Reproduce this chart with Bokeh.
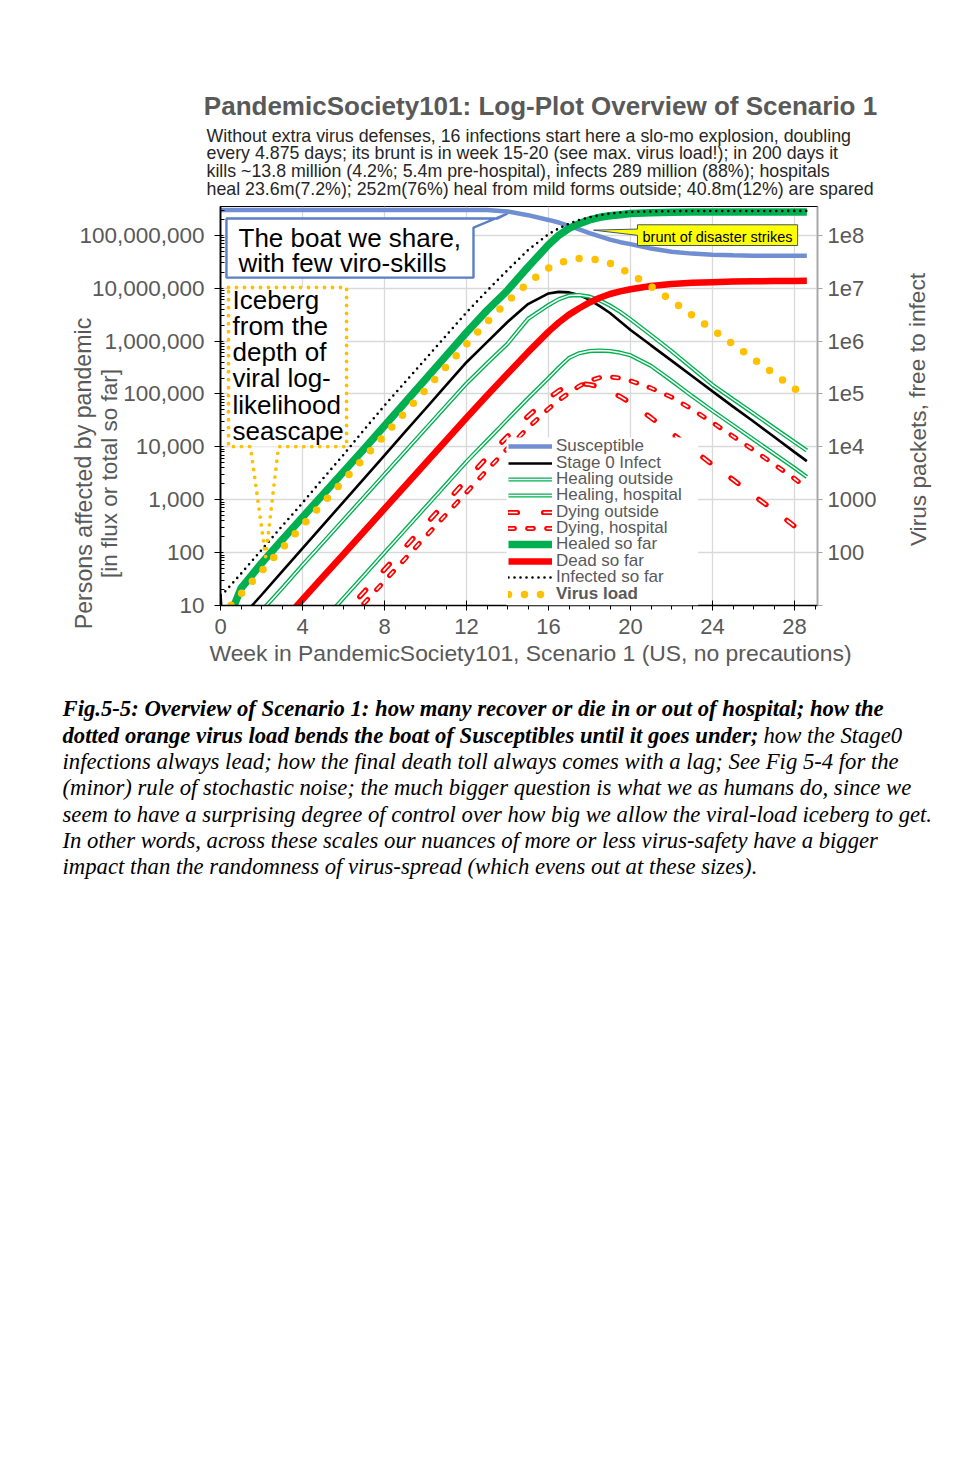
from bokeh.plotting import figure
from bokeh.models import (Range1d, LogAxis, FixedTicker, NumeralTickFormatter,
                          CustomJSTickFormatter, Label, Legend, LegendItem,
                          BoxAnnotation, ColumnDataSource)
from bokeh.embed import file_html
from bokeh.resources import INLINE

# ---------------- data ----------------
weeks = [0, 0.15, 1, 2, 3, 4, 5, 6, 7, 8, 9, 10, 11, 12, 13, 14, 15, 16, 16.5,
         17, 17.5, 18, 18.5, 19, 19.5, 20, 21, 22, 23, 24, 25, 26, 27, 28, 28.6]

susceptible = [3.0e8, 3.0e8, 3.0e8, 3.0e8, 3.0e8, 3.0e8, 3.0e8, 3.0e8, 3.0e8, 3.0e8,
               3.0e8, 3.0e8, 3.0e8, 3.0e8, 3.0e8, 2.82e8, 2.4e8, 1.95e8, 1.74e8,
               1.51e8, 1.29e8, 1.1e8, 9.5e7, 8.3e7, 7.4e7, 6.8e7, 5.6e7, 4.9e7,
               4.5e7, 4.3e7, 4.2e7, 4.12e7, 4.1e7, 4.09e7, 4.08e7]
stage0 = [16, 2.0, 5.8, 15.8, 43.6, 120, 331, 912, 2510, 6920, 19100, 52500, 145000,
          398000, 955000, 2.29e6, 5.01e6, 7.94e6, 8.51e6, 8.32e6, 7.41e6, 6.03e6,
          4.57e6, 3.39e6, 2.34e6, 1.62e6, 8.3e5, 4.27e5, 2.19e5, 1.12e5, 5.75e4,
          3.02e4, 1.55e4, 7940, 5370]
healing_outside = [1, 1, 2.95, 7.9, 21, 58, 155, 417, 1120, 3020, 8130, 21900, 58900,
                   158000, 380000, 890000, 2.63e6, 4.79e6, 6.17e6, 7.24e6, 7.41e6,
                   6.92e6, 5.89e6, 4.68e6, 3.55e6, 2.57e6, 1.29e6, 6.46e5, 3.09e5,
                   1.48e5, 7.94e4, 4.27e4, 2.29e4, 1.23e4, 8510]
healing_hospital = [1, 1, 1, 1, 1, 1.9, 5.1, 13.8, 37, 100, 269, 724, 1950, 5250, 13200,
                    33100, 83200, 2.0e5, 3.16e5, 4.79e5, 5.89e5, 6.46e5, 6.61e5, 6.46e5,
                    6.03e5, 5.37e5, 3.39e5, 1.78e5, 9.12e4, 4.79e4, 2.57e4, 1.38e4,
                    7410, 3980, 2690]
dying_outside = [1, 1, 1, 1, 1, 1, 1, 6.8, 18, 48, 126, 339, 891, 2400, 6310, 15800,
                 38000, 83200, 1.15e5, 1.48e5, 1.58e5, 1.51e5, 1.35e5, 1.12e5, 8.9e4,
                 6.76e4, 3.55e4, 1.82e4, 9120, 4570, 2400, 1200, 631, 316, 214]
dying_hospital = [1, 1, 1, 1, 1, 1, 1, 4.2, 11, 29, 76, 200, 525, 1380, 3630, 9330,
                  22900, 52500, 75900, 1.05e5, 1.41e5, 1.78e5, 2.04e5, 2.09e5, 2.0e5,
                  1.78e5, 1.29e5, 8.7e4, 5.13e4, 2.88e4, 1.58e4, 8710, 4680, 2510, 1660]
healed_so_far = [1, 3.2, 21, 63, 174, 468, 1260, 3390, 9120, 25100, 69200, 1.9e5,
                 5.25e5, 1.45e6, 3.8e6, 9.1e6, 2.51e7, 6.6e7, 1.0e8, 1.35e8, 1.66e8,
                 1.95e8, 2.19e8, 2.34e8, 2.45e8, 2.57e8, 2.66e8, 2.72e8, 2.75e8,
                 2.76e8, 2.76e8, 2.76e8, 2.76e8, 2.76e8, 2.76e8]
dead_so_far = [1, 1, 1, 1, 4.8, 13, 35, 93, 251, 676, 1820, 4900, 13200, 35500, 93300,
               2.4e5, 6.17e5, 1.51e6, 2.24e6, 3.16e6, 4.17e6, 5.37e6, 6.6e6, 7.76e6,
               8.7e6, 9.55e6, 1.1e7, 1.2e7, 1.26e7, 1.3e7, 1.33e7, 1.35e7, 1.36e7,
               1.37e7, 1.38e7]
infected_so_far = [16, 17, 40, 112, 316, 871, 2510, 7080, 20900, 60300, 1.66e5, 4.57e5,
                   1.26e6, 3.47e6, 8.9e6, 2.19e7, 5.25e7, 1.05e8, 1.35e8, 1.66e8, 1.95e8,
                   2.19e8, 2.4e8, 2.57e8, 2.69e8, 2.75e8, 2.82e8, 2.85e8, 2.88e8, 2.88e8,
                   2.88e8, 2.88e8, 2.88e8, 2.89e8, 2.89e8]
virus_load = [6, 7, 16.6, 44.7, 120, 324, 871, 2290, 6170, 16600, 44700, 1.2e5, 3.24e5,
              8.71e5, 2.29e6, 5.62e6, 1.26e7, 2.4e7, 2.95e7, 3.39e7, 3.63e7, 3.63e7,
              3.39e7, 2.95e7, 2.4e7, 1.86e7, 1.07e7, 5.89e6, 3.09e6, 1.66e6, 8.71e5,
              4.57e5, 2.4e5, 1.26e5, 8.51e4]

x_ticks = [0, 4, 8, 12, 16, 20, 24, 28]
y_ticks = [10, 100, 1000, 1e4, 1e5, 1e6, 1e7, 1e8]

title_text = "PandemicSociety101: Log-Plot Overview of Scenario 1"
subtitle_lines = [
    "Without extra virus defenses, 16 infections start here a slo-mo explosion, doubling",
    "every 4.875 days; its brunt is in week 15-20 (see max. virus load!); in 200 days it",
    "kills ~13.8 million  (4.2%; 5.4m pre-hospital), infects 289 million  (88%); hospitals",
    "heal 23.6m(7.2%); 252m(76%) heal from mild forms outside; 40.8m(12%) are spared",
]
caption_bold_1 = "Fig.5-5: Overview of Scenario 1: how many recover or die in or out of hospital; how the"
caption_bold_2 = "dotted orange virus load bends the boat of Susceptibles until it goes under;"
caption_ital_2 = "how the Stage0"
caption_lines = [
    "infections always lead; how the final death toll always comes with a lag; See Fig 5-4 for the",
    "(minor) rule of stochastic noise; the much bigger question is what we as humans do, since we",
    "seem to have a surprising degree of control over how big we allow the viral-load iceberg to get.",
    "In other words, across these scales our nuances of more or less virus-safety have a bigger",
    "impact than the randomness of virus-spread (which evens out at these sizes).",
]

src = ColumnDataSource(dict(week=weeks, sus=susceptible, s0=stage0, ho=healing_outside,
                            hh=healing_hospital, do=dying_outside, dh=dying_hospital,
                            healed=healed_so_far, dead=dead_so_far,
                            inf=infected_so_far, vir=virus_load))

# ---------------- figure ----------------
W, H = 965, 1457
FL, FR, FT, FB = 220, 817, 206, 605
SANS = "Liberation Sans"
SERIF = "Liberation Serif"
GREY = "#595959"

p = figure(width=W, height=H, output_backend="svg", toolbar_location=None,
           x_range=Range1d(0, 29.12), y_range=Range1d(10, 3.5e8), y_axis_type="log",
           min_border_left=FL, min_border_right=W - FR, min_border_top=FT,
           min_border_bottom=H - FB, background_fill_color="white",
           border_fill_color="white")
p.outline_line_color = "black"
p.outline_line_width = 1.2

p.xgrid.ticker = FixedTicker(ticks=x_ticks)
p.ygrid.ticker = FixedTicker(ticks=y_ticks)
p.grid.grid_line_color = "#d9d9d9"
p.grid.grid_line_width = 1.3

xa = p.xaxis[0]
xa.ticker = FixedTicker(ticks=x_ticks, minor_ticks=list(range(0, 30)))
xa.axis_line_color = "black"
xa.axis_line_width = 1.5
xa.major_tick_in = 5
xa.major_tick_out = 5
xa.minor_tick_in = 0
xa.minor_tick_out = 4
xa.major_label_text_font = SANS
xa.major_label_text_font_size = "22px"
xa.major_label_text_color = GREY
xa.major_label_standoff = 8

ya = p.yaxis[0]
ya.ticker = FixedTicker(ticks=y_ticks,
                        minor_ticks=[m * 10 ** k for k in range(1, 8) for m in range(2, 10)]
                        + [2e8, 3e8])
ya.formatter = NumeralTickFormatter(format="0,0")
ya.axis_line_color = "black"
ya.axis_line_width = 1.8
ya.major_tick_in = 3
ya.major_tick_out = 6
ya.minor_tick_in = 4
ya.minor_tick_out = 0
ya.major_label_text_font = SANS
ya.major_label_text_font_size = "22.5px"
ya.major_label_text_color = GREY
ya.major_label_standoff = 10

ra = LogAxis(ticker=FixedTicker(ticks=y_ticks),
             formatter=CustomJSTickFormatter(code="""
                 if (tick < 50) { return ""; }
                 if (tick < 5000) { return Math.round(tick).toString(); }
                 return "1e" + Math.round(Math.log10(tick));
             """))
ra.axis_line_color = "#a6a6a6"
ra.axis_line_width = 1.5
ra.major_tick_in = 0
ra.major_tick_out = 5
ra.major_tick_line_color = "#a6a6a6"
ra.minor_tick_line_color = None
ra.major_label_text_font = SANS
ra.major_label_text_font_size = "22px"
ra.major_label_text_color = GREY
ra.major_label_standoff = 5
p.add_layout(ra, "right")

# ---------------- callout backgrounds (under the curves) ----------------
ice_x = [0.39, 6.15, 6.15, 2.83, 2.2, 1.46, 0.39]
ice_y = [1.03e7, 1.03e7, 1.01e4, 1.01e4, 84, 1.01e4, 1.01e4]
p.patch(ice_x[:4] + ice_x[5:], ice_y[:4] + ice_y[5:], fill_color="white", line_color=None)

boat_x = [0.29, 13.51, 14.0, 12.34, 12.34, 0.29]
boat_y = [2.08e8, 2.08e8, 2.58e8, 1.4e8, 1.58e7, 1.58e7]
p.patch(boat_x, boat_y, fill_color="white", line_color="#5b7fc7", line_width=2.4)

# ---------------- series ----------------
GREEN = "#00b050"
RED = "#ff0000"
r_sus = p.line("week", "sus", source=src, line_color="#6f8fd2", line_width=4.5)
r_s0 = p.line("week", "s0", source=src, line_color="black", line_width=2.6)
r_ho1 = p.line("week", "ho", source=src, line_color=GREEN, line_width=4.2)
r_ho2 = p.line("week", "ho", source=src, line_color="white", line_width=1.5)
r_hh1 = p.line("week", "hh", source=src, line_color=GREEN, line_width=4.2)
r_hh2 = p.line("week", "hh", source=src, line_color="white", line_width=1.5)
r_do1 = p.line("week", "do", source=src, line_color=RED, line_width=5.2,
               line_dash="9 26", line_cap="round")
r_do2 = p.line("week", "do", source=src, line_color="white", line_width=1.7,
               line_dash="9 26")
r_dh1 = p.line("week", "dh", source=src, line_color=RED, line_width=4.8,
               line_dash="6 13", line_cap="round")
r_dh2 = p.line("week", "dh", source=src, line_color="white", line_width=1.6,
               line_dash="6 13")
r_healed = p.line("week", "healed", source=src, line_color=GREEN, line_width=7.5)
r_dead = p.line("week", "dead", source=src, line_color=RED, line_width=6.5)
r_inf = p.line("week", "inf", source=src, line_color="black", line_width=2.6,
               line_dash="0 6", line_cap="round")
r_vir = p.line("week", "vir", source=src, line_color="#ffc000", line_width=7.5,
               line_dash="0 16", line_cap="round")

# iceberg dotted outline on top
p.patch(ice_x, ice_y, fill_color=None, line_color="#ffc000", line_width=3.8,
        line_dash="0 8", line_cap="round")

# yellow callout
yel_x = [20.34, 28.15, 28.15, 20.34, 20.34, 18.2, 20.34]
yel_y = [1.58e8, 1.58e8, 6.4e7, 6.4e7, 9.98e7, 1.25e8, 1.31e8]
p.patch(yel_x, yel_y, fill_color="#ffff00", line_color="#44546a", line_width=1)

# ---------------- legend: white panel + one row per series ----------------
p.add_layout(BoxAnnotation(left=13.95, right=23.3, bottom=10, top=15000,
                           fill_color="white", fill_alpha=1.0, line_color=None))

legend_rows = [
    ("Susceptible", [r_sus]),
    ("Stage 0 Infect", [r_s0]),
    ("Healing outside", [r_ho1, r_ho2]),
    ("Healing, hospital", [r_hh1, r_hh2]),
    ("Dying outside", [r_do1, r_do2]),
    ("Dying, hospital", [r_dh1, r_dh2]),
    ("Healed so far", [r_healed]),
    ("Dead so far", [r_dead]),
    ("Infected so far", [r_inf]),
    ("Virus load", [r_vir]),
]
ROW0, ROWSTEP, ROWH = 446.8, 16.36, 19
for i, (name, rends) in enumerate(legend_rows):
    centre = ROW0 + ROWSTEP * i
    lg = Legend(items=[LegendItem(label=name, renderers=rends)],
                location=(288, FB - centre - ROWH / 2),
                glyph_width=44, glyph_height=14, label_height=10, label_standoff=4,
                padding=0, spacing=0, margin=0, border_line_alpha=0,
                background_fill_alpha=0.0,
                label_text_font=SANS, label_text_font_size="17px",
                label_text_color=GREY,
                label_text_font_style="bold" if name == "Virus load" else "normal")
    p.add_layout(lg)


# ---------------- texts ----------------
def txt(x, y, s, size, color=GREY, style="normal", font=SANS, align="left",
        angle=0.0, place="center"):
    lab = Label(x=x, y=y, x_units="canvas", y_units="canvas", text=s,
                text_font=font, text_font_size=f"{size}px", text_color=color,
                text_font_style=style, text_align=align,
                text_baseline="middle", angle=angle)
    if place == "center":
        p.add_layout(lab)
    else:
        p.add_layout(lab, place)


txt(540, 105, title_text, 26, style="bold", align="center", place="above")
for i, line in enumerate(subtitle_lines):
    txt(206, 135 + i * 17.7, line, 17.8, color="#262626", place="above")

txt(238, 237, "The boat we share,", 26, color="black")
txt(238, 262, "with few viro-skills", 26, color="black")
for i, line in enumerate(["Iceberg", "from the", "depth of", "viral log-",
                          "likelihood", "seascape"]):
    txt(232, 299 + i * 26.3, line, 26, color="black")
txt(717, 236, "brunt of disaster strikes", 14.5, color="black", align="center")

txt(83, 473, "Persons affected by pandemic", 23.2, align="center", angle=1.5708,
    place="left")
txt(109, 473, "[in flux or total so far]", 22.5, align="center", angle=1.5708,
    place="left")
txt(917, 409, "Virus packets, free to infect", 22.7, align="center", angle=1.5708,
    place="right")
txt(530, 652, "Week in PandemicSociety101, Scenario 1 (US, no precautions)", 22.9,
    align="center", place="below")

txt(62, 708, caption_bold_1, 22.7, color="black", style="bold italic", font=SERIF,
    place="below")
txt(62, 735, caption_bold_2, 22.7, color="black", style="bold italic", font=SERIF,
    place="below")
txt(763, 735, caption_ital_2, 22.7, color="black", style="italic", font=SERIF,
    place="below")
for i, line in enumerate(caption_lines):
    txt(62, 761 + i * 26.3, line, 22.7, color="black", style="italic", font=SERIF,
        place="below")

open("out.html", "w").write(file_html(p, INLINE))
